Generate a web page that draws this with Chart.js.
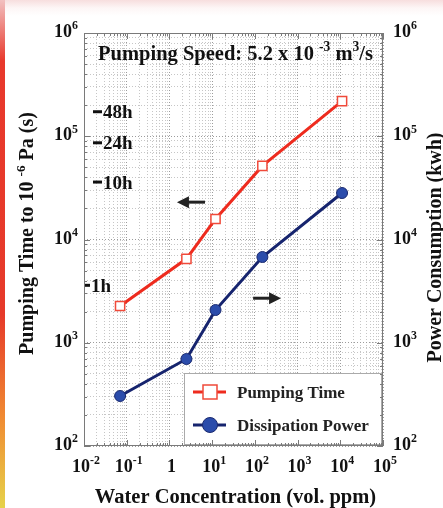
<!DOCTYPE html>
<html>
<head>
<meta charset="utf-8">
<script src="https://cdn.jsdelivr.net/npm/chart.js@4.4.0/dist/chart.umd.min.js"></script>
<style>
  html, body { margin: 0; padding: 0; background: #fff; }
  #wrap { position: relative; width: 443px; height: 508px; overflow: hidden;
          background: linear-gradient(#f7dede 0px, #fdf6f6 8px, #fff 16px); }
  #bar { position: absolute; left: 0; top: 0; width: 5px; height: 508px;
         background: linear-gradient(#f2c0c0, #e8392c 12%, #e63a2a 62%, #f08a32 82%, #e6d24a); }
  #head { position: absolute; left: 128px; top: -30px; font: bold 30px "Liberation Sans", sans-serif;
          color: #e8301c; white-space: nowrap; letter-spacing: 6px; }
  canvas { position: absolute; left: 0; top: 0; }
</style>
</head>
<body>
<div id="wrap">
  <div id="bar"></div>
  <div id="head">Time and Power</div>
  <canvas id="c" width="443" height="508"></canvas>
</div>
<script>
// valores
var concentration = [0.07, 2.5, 12, 150, 11000];       // vol. ppm
var pumpingTime   = [2270, 6500, 15800, 51600, 219000]; // s
var powerUse      = [305, 696, 2075, 6770, 28200];      // kwh
var seriesNames   = ['Pumping Time', 'Dissipation Power'];

var xDecades = [-2, -1, 0, 1, 2, 3, 4, 5];
var yDecades = [2, 3, 4, 5, 6];
var hourLabels  = ['48h', '24h', '10h', '1h'];
var hourSeconds = [172800, 86400, 36000, 3600];

// setas (em unidades dos dados)
var arrowLeft  = {x1: 6.8, x2: 1.5, y: 23000};
var arrowRight = {x1: 91, x2: 410, y: 2700};

var SERIF = '"Liberation Serif", "Times New Roman", serif';
var RED = '#ee2b1e', NAVY = '#16246e';

function logTicks(e0, e1) {
  var t = [];
  for (var e = e0; e < e1; e++)
    for (var m = 1; m < 10; m++) t.push({value: m * Math.pow(10, e)});
  t.push({value: Math.pow(10, e1)});
  return t;
}
function isDecade(v) {
  var l = Math.log10(v);
  return Math.abs(l - Math.round(l)) < 1e-6;
}

// texto com expoentes: "10^{-3}"
function parseRuns(s) {
  var runs = [], re = /\^\{([^}]*)\}/g, last = 0, m;
  while ((m = re.exec(s))) {
    if (m.index > last) runs.push({t: s.slice(last, m.index)});
    runs.push({t: m[1], sup: true});
    last = re.lastIndex;
  }
  if (last < s.length) runs.push({t: s.slice(last)});
  return runs;
}
function runsWidth(ctx, runs, size) {
  var w = 0;
  runs.forEach(function (r) {
    ctx.font = 'bold ' + (r.sup ? size * 0.66 : size) + 'px ' + SERIF;
    w += ctx.measureText(r.t).width;
  });
  return w;
}
function drawText(ctx, s, x, y, size, align) {
  var runs = parseRuns(s);
  var w = runsWidth(ctx, runs, size);
  var cx = align === 'center' ? x - w / 2 : (align === 'right' ? x - w : x);
  ctx.textAlign = 'left';
  ctx.textBaseline = 'alphabetic';
  runs.forEach(function (r) {
    var fs = r.sup ? size * 0.66 : size;
    ctx.font = 'bold ' + fs + 'px ' + SERIF;
    ctx.fillText(r.t, cx, r.sup ? y - size * 0.42 : y);
    cx += ctx.measureText(r.t).width;
  });
}
function drawRotated(ctx, s, cx, cy, size) {
  ctx.save();
  ctx.translate(cx, cy);
  ctx.rotate(-Math.PI / 2);
  drawText(ctx, s, 0, size * 0.35, size, 'center');
  ctx.restore();
}
function drawArrow(ctx, xa, xb, y) {
  var dir = xb > xa ? 1 : -1;
  ctx.strokeStyle = '#222'; ctx.fillStyle = '#222'; ctx.lineWidth = 3;
  ctx.beginPath(); ctx.moveTo(xa, y); ctx.lineTo(xb - dir * 8, y); ctx.stroke();
  ctx.beginPath(); ctx.moveTo(xb, y); ctx.lineTo(xb - dir * 12, y - 6); ctx.lineTo(xb - dir * 12, y + 6);
  ctx.closePath(); ctx.fill();
}

var decor = {
  id: 'decor',
  afterDatasetsDraw: function (chart) {
    // legenda dentro do gráfico
    var ctx = chart.ctx, a = chart.chartArea;
    var bx = a.right - 199, by = a.bottom - 73, bw = 198, bh = 72;
    ctx.save();
    ctx.fillStyle = '#fff';
    ctx.fillRect(bx, by, bw, bh);
    ctx.strokeStyle = '#aaa'; ctx.lineWidth = 1;
    ctx.strokeRect(bx + 0.5, by + 0.5, bw - 1, bh - 1);
    chart.data.datasets.forEach(function (ds, i) {
      var ly = by + 19 + i * 33;
      ctx.strokeStyle = ds.borderColor; ctx.lineWidth = 3;
      ctx.beginPath(); ctx.moveTo(bx + 9, ly); ctx.lineTo(bx + 42, ly); ctx.stroke();
      ctx.lineWidth = ds.pointBorderWidth;
      ctx.fillStyle = ds.pointBackgroundColor; ctx.strokeStyle = ds.pointBorderColor;
      ctx.beginPath();
      if (ds.pointStyle === 'rect') ctx.rect(bx + 19, ly - 7, 14, 14);
      else ctx.arc(bx + 26, ly, 7.5, 0, Math.PI * 2);
      ctx.fill(); ctx.stroke();
      ctx.fillStyle = '#222';
      drawText(ctx, ds.label, bx + 53, ly + 6, 17, 'left');
    });
    ctx.restore();
  },
  afterDraw: function (chart) {
    var ctx = chart.ctx, a = chart.chartArea;
    var sx = chart.scales.x, sy = chart.scales.y, sy1 = chart.scales.y1;
    ctx.save();
    // moldura e marcas
    ctx.strokeStyle = '#7a7a7a'; ctx.lineWidth = 1;
    ctx.strokeRect(a.left + 0.5, a.top + 0.5, a.right - a.left - 1, a.bottom - a.top - 1);
    ctx.beginPath();
    sx.ticks.forEach(function (t) {
      var p = Math.round(sx.getPixelForValue(t.value)) + 0.5, L = isDecade(t.value) ? 6 : 3;
      ctx.moveTo(p, a.bottom); ctx.lineTo(p, a.bottom - L);
      ctx.moveTo(p, a.top); ctx.lineTo(p, a.top + L);
    });
    sy.ticks.forEach(function (t) {
      var p = Math.round(sy.getPixelForValue(t.value)) + 0.5, L = isDecade(t.value) ? 6 : 3;
      ctx.moveTo(a.left, p); ctx.lineTo(a.left + L, p);
      ctx.moveTo(a.right, p); ctx.lineTo(a.right - L, p);
    });
    ctx.stroke();

    // rótulos dos eixos
    ctx.fillStyle = '#111';
    xDecades.forEach(function (e) {
      var s = e === 0 ? '1' : '10^{' + e + '}';
      drawText(ctx, s, sx.getPixelForValue(Math.pow(10, e)) + 2, a.bottom + 26, 18, 'center');
    });
    yDecades.forEach(function (e) {
      var s = '10^{' + e + '}';
      drawText(ctx, s, a.left - 6, sy.getPixelForValue(Math.pow(10, e)) + 4, 18, 'right');
      drawText(ctx, s, a.right + 10, sy1.getPixelForValue(Math.pow(10, e)) + 4, 18, 'left');
    });

    // títulos
    drawText(ctx, 'Water Concentration (vol. ppm)', (a.left + a.right) / 2 + 2, 503, 20.5, 'center');
    drawRotated(ctx, 'Pumping Time to 10 ^{-6} Pa (s)', 26, (a.top + a.bottom) / 2 - 6, 20);
    drawRotated(ctx, 'Power Consumption (kwh)', 434, (a.top + a.bottom) / 2 + 8, 20);

    // horas
    hourLabels.forEach(function (h, i) {
      var py = sy.getPixelForValue(hourSeconds[i]);
      var d0 = h === '1h' ? 1 : 9, d1 = h === '1h' ? 6 : 18;
      ctx.strokeStyle = '#111'; ctx.lineWidth = 3;
      ctx.beginPath(); ctx.moveTo(a.left + d0, py); ctx.lineTo(a.left + d1, py); ctx.stroke();
      drawText(ctx, h, a.left + d1 + 1, py + 6.5, 19, 'left');
    });

    // anotação
    drawText(ctx, 'Pumping Speed: 5.2 x 10 ^{-3} m^{3}/s', (a.left + a.right) / 2 + 2, 60, 20.5, 'center');

    drawArrow(ctx, sx.getPixelForValue(arrowLeft.x1), sx.getPixelForValue(arrowLeft.x2), sy.getPixelForValue(arrowLeft.y));
    drawArrow(ctx, sx.getPixelForValue(arrowRight.x1), sx.getPixelForValue(arrowRight.x2), sy1.getPixelForValue(arrowRight.y));
    ctx.restore();
  }
};

function gridColor(c) {
  return c.tick && isDecade(c.tick.value) ? '#9c9c9c' : '#c6c6c6';
}

var chart = new Chart(document.getElementById('c'), {
  type: 'line',
  data: {
    datasets: [{
      label: seriesNames[0],
      data: concentration.map(function (x, i) { return {x: x, y: pumpingTime[i]}; }),
      yAxisID: 'y',
      borderColor: RED,
      borderWidth: 3,
      pointStyle: 'rect',
      pointRadius: 6.5,
      pointBackgroundColor: '#fff',
      pointBorderColor: '#f04a3a',
      pointBorderWidth: 1.5
    }, {
      label: seriesNames[1],
      data: concentration.map(function (x, i) { return {x: x, y: powerUse[i]}; }),
      yAxisID: 'y1',
      borderColor: NAVY,
      borderWidth: 3,
      pointStyle: 'circle',
      pointRadius: 5.5,
      pointBackgroundColor: '#2b4cab',
      pointBorderColor: '#1a2a70',
      pointBorderWidth: 1
    }]
  },
  options: {
    responsive: false,
    animation: false,
    layout: {padding: {top: 33}},
    plugins: {legend: {display: false}, tooltip: {enabled: false}},
    scales: {
      x: {
        type: 'logarithmic', min: 0.01, max: 100000,
        afterBuildTicks: function (s) { s.ticks = logTicks(-2, 5); },
        ticks: {display: false, autoSkip: false},
        grid: {color: gridColor, drawTicks: false},
        border: {display: false, dash: [1, 2]},
        afterFit: function (s) { s.height = 62; }
      },
      y: {
        type: 'logarithmic', position: 'left', min: 100, max: 1000000,
        afterBuildTicks: function (s) { s.ticks = logTicks(2, 6); },
        ticks: {display: false, autoSkip: false},
        grid: {color: gridColor, drawTicks: false},
        border: {display: false, dash: [1, 2]},
        afterFit: function (s) { s.width = 84; }
      },
      y1: {
        type: 'logarithmic', position: 'right', min: 100, max: 1000000,
        ticks: {display: false},
        grid: {display: false},
        border: {display: false},
        afterFit: function (s) { s.width = 60; }
      }
    }
  },
  plugins: [decor]
});
</script>
</body>
</html>
